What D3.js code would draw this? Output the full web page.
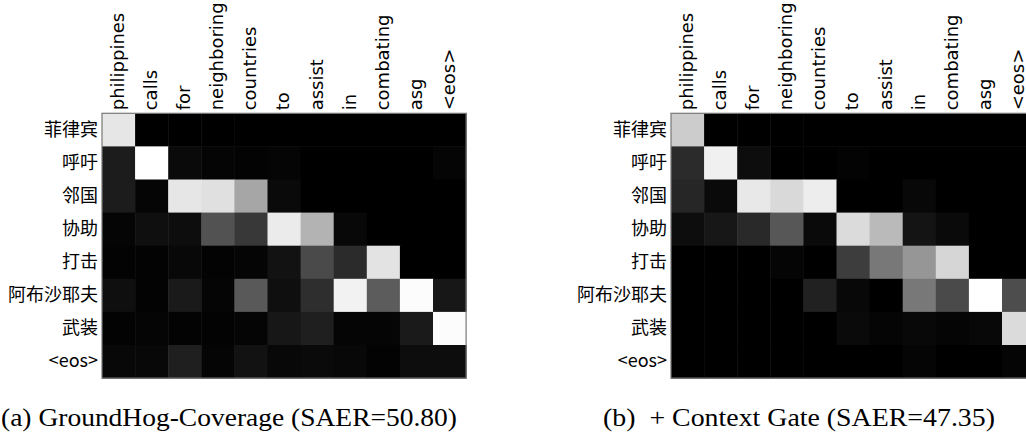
<!DOCTYPE html>
<html>
<head>
<meta charset="utf-8">
<script src="https://cdn.jsdelivr.net/npm/d3@7/dist/d3.min.js"></script>
<style>
  html, body { margin: 0; padding: 0; background: #fff; }
  svg { display: block; }
</style>
</head>
<body>
<svg id="chart" width="1026" height="442"></svg>
<script>
var targetWords = ['philippines', 'calls', 'for', 'neighboring', 'countries',
  'to', 'assist', 'in', 'combating', 'asg', '<eos>'];
var sourceWords = ['菲律宾', '呼吁', '邻国', '协助', '打击', '阿布沙耶夫', '武装', '<eos>'];

// attention weights, rows = source words, columns = target words
var coverageAttention = [
  [0.90, 0.00, 0.00, 0.00, 0.00, 0.00, 0.00, 0.00, 0.00, 0.00, 0.00],
  [0.11, 1.00, 0.04, 0.02, 0.01, 0.02, 0.00, 0.00, 0.00, 0.00, 0.02],
  [0.11, 0.02, 0.90, 0.88, 0.65, 0.04, 0.00, 0.00, 0.00, 0.00, 0.00],
  [0.02, 0.06, 0.05, 0.32, 0.22, 0.92, 0.70, 0.03, 0.00, 0.00, 0.00],
  [0.01, 0.01, 0.03, 0.01, 0.02, 0.07, 0.29, 0.17, 0.89, 0.00, 0.00],
  [0.06, 0.01, 0.10, 0.02, 0.35, 0.06, 0.18, 0.95, 0.36, 0.99, 0.09],
  [0.01, 0.02, 0.01, 0.01, 0.02, 0.09, 0.12, 0.02, 0.02, 0.10, 0.99],
  [0.03, 0.03, 0.12, 0.02, 0.07, 0.03, 0.04, 0.03, 0.01, 0.05, 0.05]
];

var contextGateAttention = [
  [0.80, 0.00, 0.00, 0.00, 0.00, 0.00, 0.00, 0.00, 0.00, 0.00, 0.00],
  [0.17, 0.94, 0.05, 0.00, 0.00, 0.01, 0.00, 0.00, 0.00, 0.00, 0.00],
  [0.15, 0.04, 0.91, 0.85, 0.93, 0.00, 0.00, 0.03, 0.00, 0.00, 0.00],
  [0.05, 0.09, 0.16, 0.34, 0.04, 0.86, 0.73, 0.08, 0.04, 0.00, 0.00],
  [0.00, 0.00, 0.00, 0.02, 0.00, 0.24, 0.47, 0.59, 0.84, 0.00, 0.00],
  [0.00, 0.00, 0.00, 0.00, 0.13, 0.03, 0.00, 0.47, 0.29, 1.00, 0.30],
  [0.00, 0.00, 0.00, 0.00, 0.00, 0.04, 0.02, 0.03, 0.02, 0.03, 0.86],
  [0.00, 0.00, 0.00, 0.00, 0.00, 0.00, 0.00, 0.02, 0.00, 0.00, 0.02]
];

var captions = [
  '(a) GroundHog-Coverage (SAER=50.80)',
  '(b)  + Context Gate (SAER=47.35)'
];

var svg = d3.select('#chart');
var cell = 33.1;
var gridTop = 113.3;

var grayScale = d3.scaleLinear().domain([0, 1]).range(['#000000', '#ffffff']);

drawPanel({ matrix: coverageAttention, left: 102, caption: captions[0], captionX: 1, captionWidth: 456 });
drawPanel({ matrix: contextGateAttention, left: 671, caption: captions[1], captionX: 603, captionWidth: 392 });

function drawPanel({ matrix, left, caption, captionX, captionWidth }) {
  var x = d3.scaleBand()
    .domain(d3.range(targetWords.length))
    .range([left, left + cell * targetWords.length]);
  var y = d3.scaleBand()
    .domain(d3.range(sourceWords.length))
    .range([gridTop, gridTop + cell * sourceWords.length]);

  var g = svg.append('g');

  var cells = [];
  matrix.forEach(function (row, i) {
    row.forEach(function (v, j) {
      cells.push({ row: i, col: j, value: v });
    });
  });

  g.selectAll('rect.cell')
    .data(cells)
    .enter()
    .append('rect')
    .classed('cell', true)
    .attr('x', function (d) { return x(d.col); })
    .attr('y', function (d) { return y(d.row); })
    .attr('width', x.bandwidth() + 0.5)
    .attr('height', y.bandwidth() + 0.5)
    .attr('fill', function (d) { return grayScale(d.value); });

  // frame round the matrix
  g.append('rect')
    .attr('x', x.range()[0])
    .attr('y', y.range()[0])
    .attr('width', x.range()[1] - x.range()[0])
    .attr('height', y.range()[1] - y.range()[0])
    .attr('fill', 'none')
    .attr('stroke', '#777')
    .attr('stroke-width', 1.2);

  var xAxis = g.append('g')
    .attr('transform', 'translate(0,' + gridTop + ')')
    .call(d3.axisTop(x).tickSize(0).tickFormat(function (i) { return targetWords[i]; }));
  xAxis.select('.domain').remove();
  xAxis.selectAll('text')
    .attr('transform', 'rotate(-90)')
    .attr('x', 3)
    .attr('y', 0)
    .attr('dy', '0.3em')
    .attr('text-anchor', 'start')
    .style('font-family', '"DejaVu Sans", sans-serif')
    .style('font-size', '18px')
    .attr('fill', '#000');

  var yAxis = g.append('g')
    .attr('transform', 'translate(' + left + ',0)')
    .call(d3.axisLeft(y).tickSize(0).tickPadding(4).tickFormat(function (i) { return sourceWords[i]; }));
  yAxis.select('.domain').remove();
  yAxis.selectAll('text')
    .style('font-family', '"Noto Sans CJK SC", sans-serif')
    .style('font-size', '18px')
    .attr('fill', '#000');

  svg.append('text')
    .attr('x', captionX)
    .attr('y', 426)
    .attr('xml:space', 'preserve')
    .attr('textLength', captionWidth)
    .attr('lengthAdjust', 'spacingAndGlyphs')
    .style('white-space', 'pre')
    .style('font-family', '"Liberation Serif", "Times New Roman", serif')
    .style('font-size', '26px')
    .attr('fill', '#000')
    .text(caption);
}
</script>
</body>
</html>
